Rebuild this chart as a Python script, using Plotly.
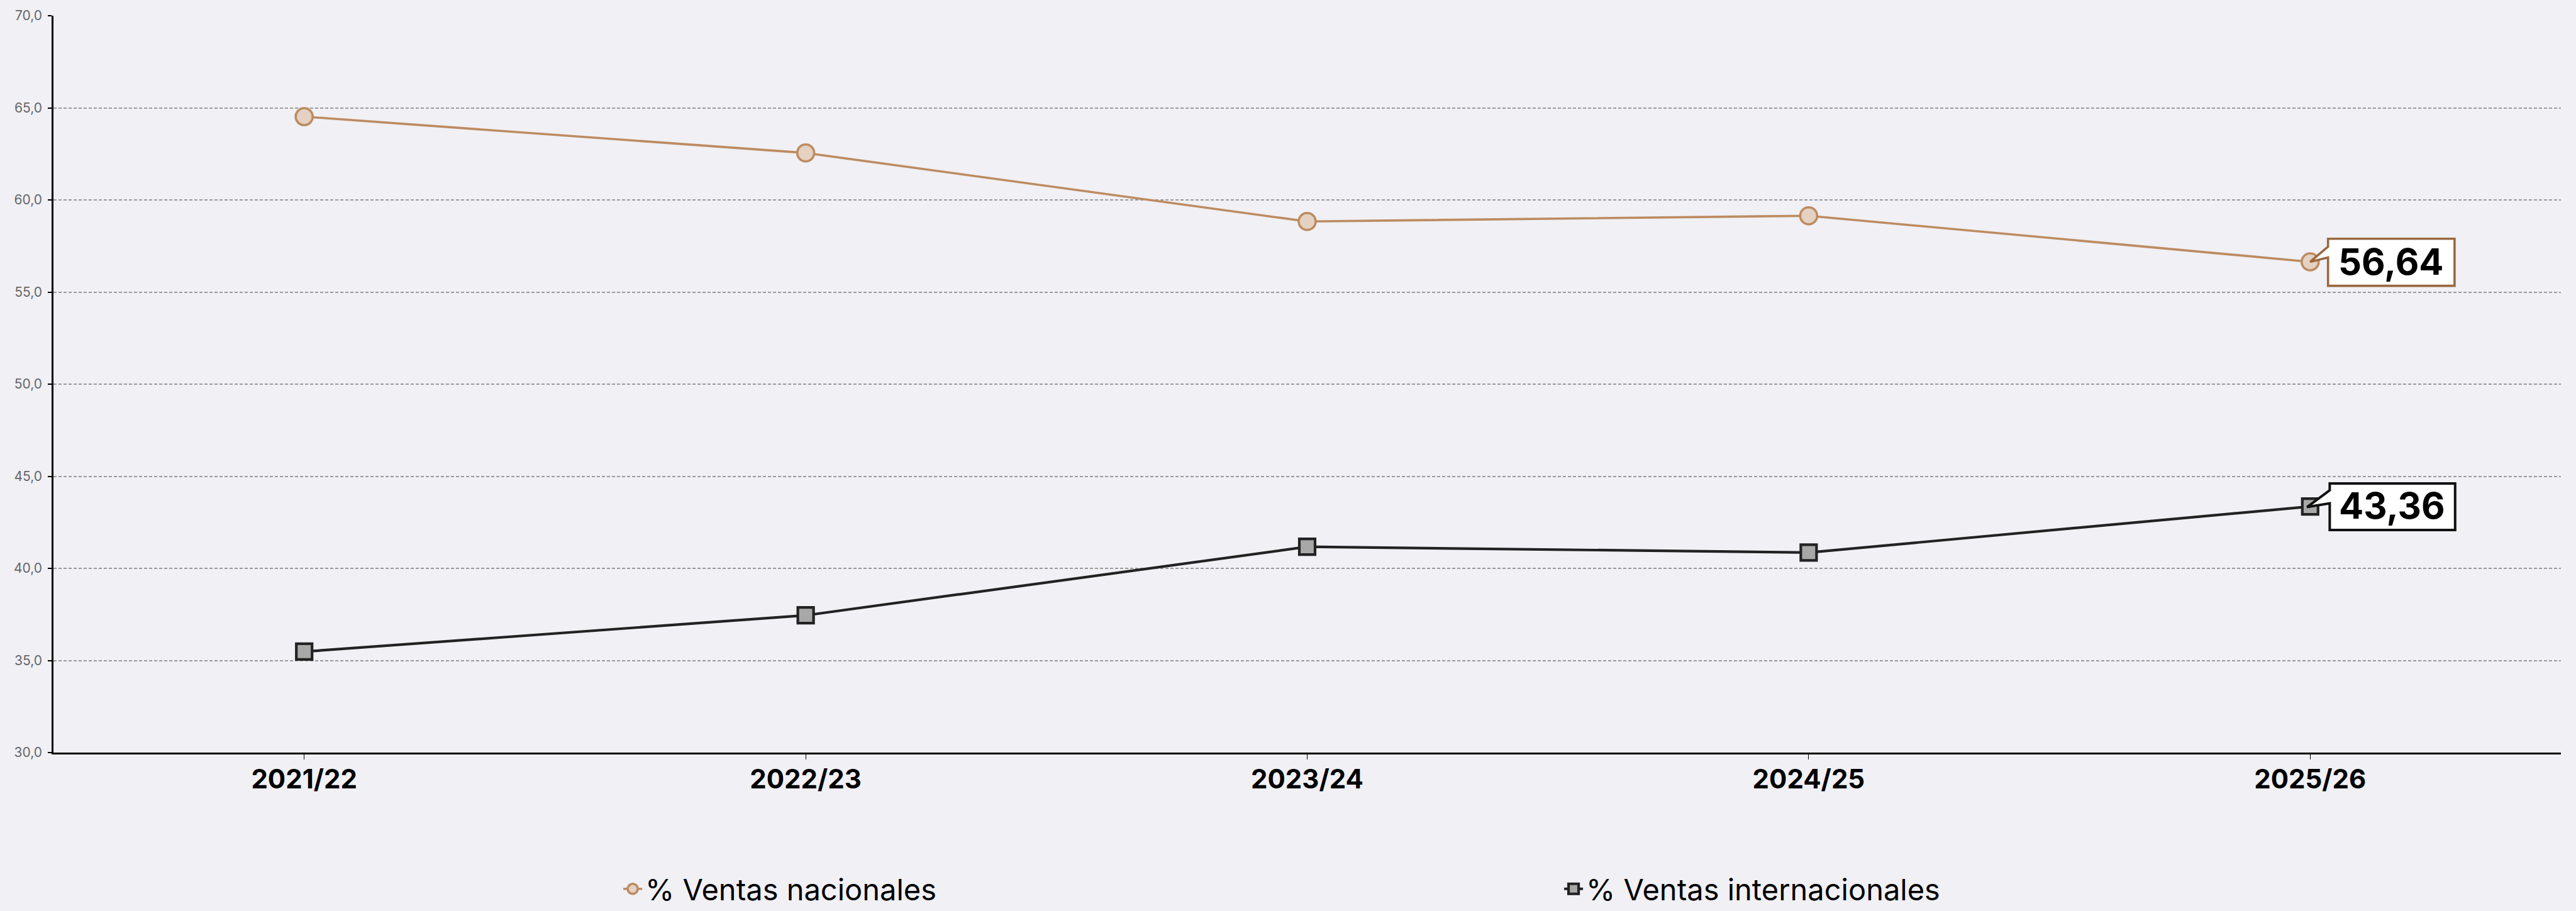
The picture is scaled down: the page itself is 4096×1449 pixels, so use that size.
import plotly.graph_objects as go

# Sales split by season (percent)
temporadas = ["2021/22", "2022/23", "2023/24", "2024/25", "2025/26"]
ventas_nacionales = [64.52, 62.55, 58.83, 59.14, 56.64]
ventas_internacionales = [35.48, 37.45, 41.17, 40.86, 43.36]

nombre_nac = "% Ventas nacionales"
nombre_int = "% Ventas internacionales"

BG = "#F0F0F5"
COL_NAC = "#BD8B60"
COL_NAC_FILL = "#E4D1C1"
COL_NAC_BOX = "#9A6840"
COL_INT = "#222222"
COL_INT_FILL = "#A8A8A8"

FONT = "Inter"


def fmt(v):
    return f"{v:.2f}".replace(".", ",")


fig = go.Figure()

fig.add_trace(go.Scatter(
    x=temporadas, y=ventas_nacionales, name=nombre_nac,
    mode="lines+markers",
    line=dict(color=COL_NAC, width=3.6),
    marker=dict(symbol="circle", size=27, color=COL_NAC_FILL,
                line=dict(color=COL_NAC, width=3.6)),
    hoverinfo="skip",
))

fig.add_trace(go.Scatter(
    x=temporadas, y=ventas_internacionales, name=nombre_int,
    mode="lines+markers",
    line=dict(color=COL_INT, width=4.2),
    marker=dict(symbol="square", size=25, color=COL_INT_FILL,
                line=dict(color=COL_INT, width=4.2)),
    hoverinfo="skip",
))

# Callout bubbles on the last season (pixel-sized paths anchored to the point)
callouts = [
    (ventas_nacionales[-1], COL_NAC_BOX, 3.6,
     "M0,0 L28.4,24.1 L28.4,36.7 L229.6,36.7 L229.6,-38.2 L28.4,-38.2 L28.4,6.9 Z",
     129, 0),
    (ventas_internacionales[-1], "#111111", 4.0,
     "M-5,-1 L31.1,25.7 L31.1,36.5 L230.5,36.5 L230.5,-37.4 L31.1,-37.4 L31.1,5.0 Z",
     130, 2),
]
for valor, color, lw, path, dx, dy in callouts:
    fig.add_shape(
        type="path", xref="x", yref="y",
        xsizemode="pixel", ysizemode="pixel",
        xanchor=temporadas[-1], yanchor=valor,
        path=path, fillcolor="white",
        line=dict(color=color, width=lw), layer="above",
    )
    fig.add_annotation(
        x=temporadas[-1], y=valor, xref="x", yref="y",
        text=f"<b>{fmt(valor)}</b>", showarrow=False,
        xshift=dx, yshift=dy,
        font=dict(family=FONT, size=58, color="#000000"),
    )

fig.update_layout(
    width=4096, height=1449,
    margin=dict(l=85, r=24, t=21, b=252),
    paper_bgcolor=BG, plot_bgcolor=BG,
    separators=",.",
    showlegend=True,
    legend=dict(
        orientation="h", xref="paper", yref="container",
        x=0.226, xanchor="left", y=0.024, yanchor="middle",
        font=dict(family=FONT, size=47, color="#000000"),
        entrywidth=1451, entrywidthmode="pixels",
        bgcolor="rgba(0,0,0,0)", itemclick=False, itemdoubleclick=False,
    ),
    hovermode=False,
)

fig.update_xaxes(
    type="category", range=[-0.5, len(temporadas) - 0.5],
    showline=True, linecolor="#000000", linewidth=2.5,
    ticks="outside", ticklen=8, tickwidth=1, tickcolor="#000000",
    showgrid=False, zeroline=False,
    tickfont=dict(family=FONT, size=42, color="#000000", weight="bold"),
    ticklabelstandoff=-4,
)

fig.update_yaxes(
    range=[30, 70], dtick=5, tick0=30, tickformat=".1f",
    showline=True, linecolor="#000000", linewidth=2.5,
    ticks="outside", ticklen=6, tickwidth=2, tickcolor="#000000",
    showgrid=True, gridcolor="#9A9A9A", gridwidth=1.5, griddash="5px,3px",
    zeroline=False,
    tickfont=dict(family=FONT, size=21, color="#666666"),
    ticklabelstandoff=5,
)

fig.write_html("out.html")
